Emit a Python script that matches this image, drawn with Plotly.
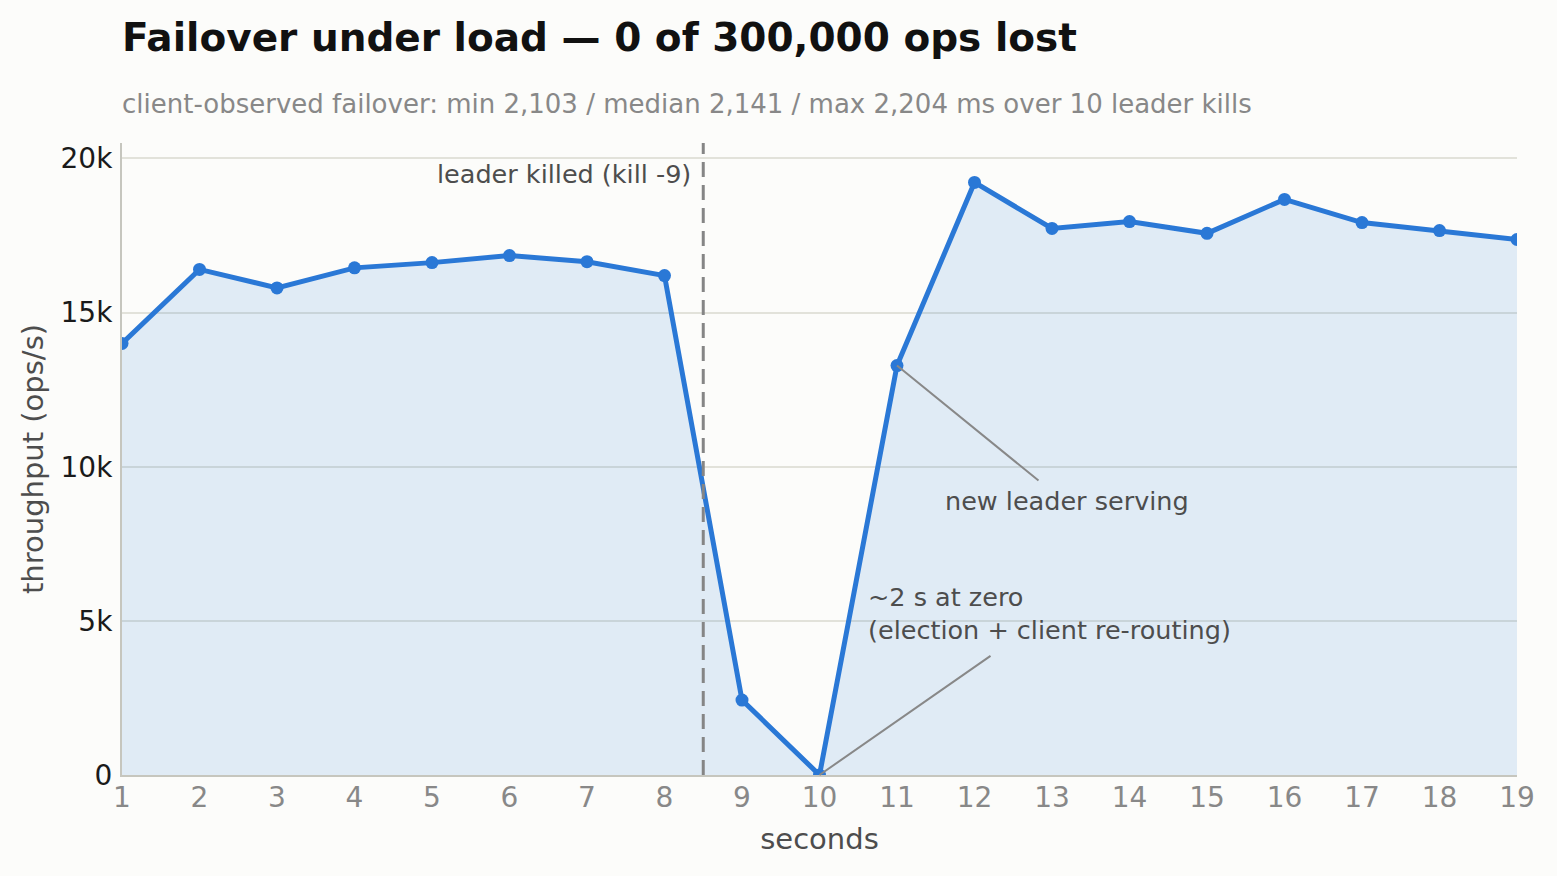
import plotly.graph_objects as go

# throughput per second during the failover run
seconds = list(range(1, 20))
throughput = [14000, 16400, 15800, 16450, 16620, 16850, 16650, 16200, 2430, 0,
              13280, 19220, 17730, 17950, 17570, 18670, 17920, 17660, 17370]
kill_at = 8.5
y_ticks = [0, 5000, 10000, 15000, 20000]
y_tick_text = ["0", "5k", "10k", "15k", "20k"]

BLUE = "#2a78d6"
BG = "#fcfcfa"
FONT = "DejaVu Sans"
NOTE = dict(family=FONT, size=25.5, color="#4d4d4d")

fig = go.Figure()

fig.add_trace(go.Scatter(
    x=seconds, y=throughput, mode="lines+markers",
    line=dict(color=BLUE, width=5),
    marker=dict(color=BLUE, size=13),
    fill="tozeroy", fillcolor="rgba(42,120,214,0.13)",
    hoverinfo="x+y", showlegend=False,
))

# kill marker
fig.add_vline(x=kill_at, line=dict(color="#858585", width=3, dash="15px,8px"), layer="above")

fig.add_annotation(x=kill_at, y=19480, xref="x", yref="y", text="leader killed (kill -9)",
                   showarrow=False, xanchor="right", xshift=-10, font=NOTE)

# pointer lines (no arrow heads)
fig.add_annotation(x=11, y=throughput[10], ax=12.845, ay=9513, axref="x", ayref="y",
                   text="", showarrow=True, arrowhead=0, arrowwidth=2, arrowcolor="#888888")
fig.add_annotation(x=13.19, y=8896, text="new leader serving", showarrow=False, font=NOTE)

fig.add_annotation(x=10, y=0, ax=12.226, ay=3896, axref="x", ayref="y",
                   text="", showarrow=True, arrowhead=0, arrowwidth=2, arrowcolor="#888888")
fig.add_annotation(x=10.6, y=5227, text="~2 s at zero<br>(election + client re-routing)",
                   showarrow=False, xanchor="left", align="left", font=NOTE)

# subtitle
fig.add_annotation(x=0, y=1 + 39 / 632, xref="paper", yref="paper", xanchor="left", yanchor="middle",
                   xshift=-2,
                   text="client-observed failover: min 2,103 / median 2,141 / max 2,204 ms over 10 leader kills",
                   showarrow=False, font=dict(family=FONT, size=26, color="#888888"))

fig.update_layout(
    width=1557, height=876,
    paper_bgcolor=BG, plot_bgcolor=BG,
    margin=dict(l=122, r=40, t=143, b=101),
    title=dict(text="<b>Failover under load — 0 of 300,000 ops lost</b>",
               x=122 / 1557, xanchor="left", y=1 - 37 / 876, yanchor="middle", yref="container",
               font=dict(family=FONT, size=39, color="#111111")),
    font=dict(family=FONT),
    xaxis=dict(range=[1, 19], tickmode="array", tickvals=seconds, showgrid=False,
               showline=True, linecolor="#c6c6be", linewidth=2, ticks="",
               ticklabelstandoff=-4,
               tickfont=dict(size=28, color="#888888"),
               title=dict(text="seconds", font=dict(size=29, color="#4d4d4d"), standoff=16),
               zeroline=False),
    yaxis=dict(range=[0, 20500], tickvals=y_ticks, ticktext=y_tick_text,
               showgrid=True, gridcolor="#e2e2da", gridwidth=2,
               showline=True, linecolor="#c6c6be", linewidth=2,
               ticks="outside", ticklen=2, tickcolor=BG, tickwidth=1,
               tickfont=dict(size=28, color="#1a1a1a"),
               title=dict(text="throughput (ops/s)", font=dict(size=29, color="#4d4d4d"), standoff=8),
               zeroline=False),
)

fig.write_html("out.html", config={"displayModeBar": False},
               post_script="document.body.style.margin='0';")
